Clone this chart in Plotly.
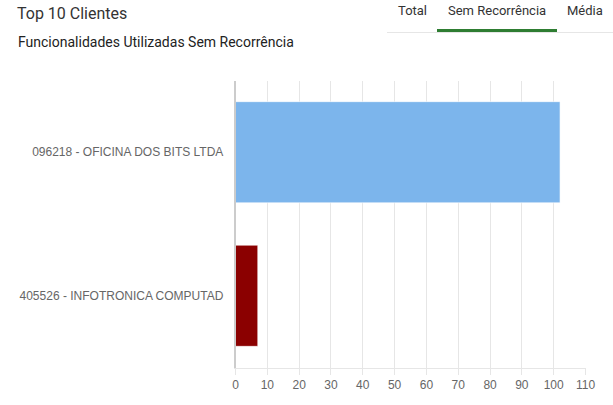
import plotly.graph_objects as go

categories = ["096218 - OFICINA DOS BITS LTDA", "405526 - INFOTRONICA COMPUTAD"]
values = [102, 7]
bar_colors = ["#7cb5ec", "#8b0000"]
x_ticks = [0, 10, 20, 30, 40, 50, 60, 70, 80, 90, 100, 110]
title_text = "Top 10 Clientes"
subtitle_text = "Funcionalidades Utilizadas Sem Recorrência"
tabs = ["Total", "Sem Recorrência", "Média"]
tab_x = [412, 497, 585]  # centres in px
W, H = 613, 405

fig = go.Figure(go.Bar(
    y=categories, x=values, orientation="h",
    marker=dict(color=bar_colors, line=dict(color="rgba(255,255,255,0.6)", width=1)),
    width=0.705,
    hoverinfo="x+y",
))

fig.update_layout(
    width=W, height=H,
    margin=dict(l=0, r=0, t=0, b=0),
    paper_bgcolor="white", plot_bgcolor="white",
    showlegend=False,
    xaxis=dict(domain=[235.5 / W, 585.5 / W], range=[0, 110], tickvals=x_ticks,
               showgrid=True, gridcolor="#e6e6e6", gridwidth=1,
               ticks="outside", ticklen=6, tickcolor="#e6e6e6",
               showline=True, linecolor="#e6e6e6", linewidth=1,
               zeroline=False, automargin=False,
               tickfont=dict(family="Liberation Sans, Arial", size=12, color="#666666")),
    yaxis=dict(domain=[1 - 367.5 / H, 1 - 80.5 / H], autorange="reversed",
               showline=True, linecolor="#cccccc", linewidth=1.5,
               showgrid=False, zeroline=False, automargin=False,
               ticks="", ticklabelstandoff=8,
               tickfont=dict(family="Liberation Sans, Arial", size=12, color="#666666")),
    bargap=0.295,
)

annotations = [
    dict(text=title_text, x=15 / W, y=1 - 13 / H, xanchor="left", yanchor="middle",
         font=dict(family="Roboto", size=16, color="#333333")),
    dict(text=subtitle_text, x=16 / W, y=1 - 42 / H, xanchor="left", yanchor="middle",
         font=dict(family="Roboto", size=14, color="#222222")),
]
for t, cx in zip(tabs, tab_x):
    annotations.append(dict(text=t, x=cx / W, y=1 - 11 / H, xanchor="center", yanchor="middle",
                            font=dict(family="Roboto", size=13, color="#333333")))
for a in annotations:
    a.update(xref="paper", yref="paper", showarrow=False)
fig.update_layout(annotations=annotations)

fig.update_layout(shapes=[
    dict(type="line", xref="paper", yref="paper", x0=387 / W, x1=1, y0=1 - 32.5 / H, y1=1 - 32.5 / H,
         line=dict(color="#e6e6e6", width=1)),
    dict(type="line", xref="paper", yref="paper", x0=437 / W, x1=557 / W, y0=1 - 30.5 / H, y1=1 - 30.5 / H,
         line=dict(color="#2e7d32", width=3)),
])

fig.write_html("out.html", config={"displayModeBar": False})
